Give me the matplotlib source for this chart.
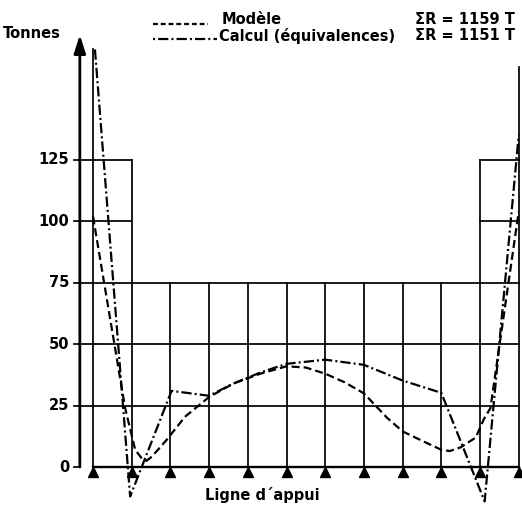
"""
plot.py
=======
Reaction diagram along the support line: measured reactions on the model
(dashed) against the equivalence calculation (dash-dot), drawn over the
support grid with the little triangle bearings underneath.

Writes out.png (522x508 px).
"""
from __future__ import annotations

import matplotlib
matplotlib.use("Agg")
import matplotlib.pyplot as plt
import matplotlib.transforms as mtransforms
from matplotlib.lines import Line2D

# ---- data -------------------------------------------------------------------
supports = list(range(12))               # bearing positions along the line
y_ticks = [0, 25, 50, 75, 100, 125]
y_tick_labels = ["0", "25", "50", "75", "100", "125"]

# heights of the verticals drawn at each support (tonnes)
post_heights = [170, 125, 75, 75, 75, 75, 75, 75, 75, 75, 125, 163]

modele_x = [0.0, 0.83, 1.09, 1.26, 1.38, 1.52, 1.9, 2.38, 3.0, 3.63, 4.33,
            5.0, 5.5, 6.0, 6.5, 7.0, 7.6, 8.0, 8.46, 9.0, 9.22, 9.5, 9.89,
            10.1, 10.27, 11.0]
modele_y = [102, 24, 7, 3.5, 2.5, 4.2, 11, 20.5, 28.5, 34, 38,
            41, 40.5, 38, 34.5, 30, 20, 14.5, 11, 7, 6.5, 8, 12,
            19.5, 24, 104]

calcul_x = [0.05, 0.96, 2.03, 3.0, 3.63, 4.33, 5.0, 6.0, 7.0, 8.0, 9.0,
            10.12, 11.0]
calcul_y = [170, -12, 31, 29, 34, 38.5, 42, 43.7, 41.6, 35.2, 30.2,
            -14, 135]

sum_modele = "\u03a3R = 1159 T"
sum_calcul = "\u03a3R = 1151 T"

# ---- look ---------------------------------------------------------------------
W, H = 522, 508
FONT = dict(family="DejaVu Sans", weight="bold", size=10.5, color="black")
GRID_LW = 1.25
CURVE_LW = 1.6
DASHED = (3.6, 1.8)
DASHDOT = (4.6, 1.4, 0.9, 1.4)
AXIS_X = -0.34


def fx(px: float) -> float:
    return px / W


def fy(py: float) -> float:
    return 1 - py / H


def draw_grid(ax) -> None:
    right = supports[-1]
    # horizontals across the whole span
    for lvl in (25, 50, 75):
        ax.plot([AXIS_X - 0.15, right], [lvl, lvl], color="black", lw=GRID_LW)
    # upper boxes over the two end bays
    for lvl in (100, 125):
        ax.plot([AXIS_X - 0.15, supports[1]], [lvl, lvl], color="black", lw=GRID_LW)
        ax.plot([supports[-2], right], [lvl, lvl], color="black", lw=GRID_LW)
    ax.plot([supports[0], right], [0, 0], color="black", lw=1.7)
    ax.plot([AXIS_X - 0.15, AXIS_X], [0, 0], color="black", lw=GRID_LW)
    for x, h in zip(supports, post_heights):
        ax.plot([x, x], [0, h], color="black", lw=GRID_LW)


def main() -> int:
    fig = plt.figure(figsize=(W / 100, H / 100), dpi=100)
    ax = fig.add_axes([0, 0, 1, 1])
    ax.set_xlim(-93 / 38.7, (W - 93) / 38.7)
    ax.set_ylim((467 - H) / 2.456, 467 / 2.456)
    ax.axis("off")

    draw_grid(ax)

    # vertical axis with arrow head
    ax.annotate("", xy=(AXIS_X, 176), xytext=(AXIS_X, 0),
                arrowprops=dict(arrowstyle="-|>,head_length=1.1,head_width=0.35",
                                color="black", lw=2.0, shrinkA=0, shrinkB=0))
    for v, lab in zip(y_ticks, y_tick_labels):
        ax.text(-0.62, v, lab, ha="right", va="center", **FONT)

    # bearings: triangles hanging just under the base line
    tri = mtransforms.offset_copy(ax.transData, fig=fig, y=-4.5, units="dots")
    ax.plot(supports, [0] * len(supports), ls="none", marker="^",
            ms=6.8, color="black", transform=tri, clip_on=False)

    ax.plot(modele_x, modele_y, color="black", lw=CURVE_LW, ls="--",
            dashes=DASHED)
    ax.plot(calcul_x, calcul_y, color="black", lw=CURVE_LW, ls="-.",
            dashes=DASHDOT)

    # legend, drawn by hand like the original
    fig.add_artist(Line2D([fx(153), fx(208)], [fy(24), fy(24)], color="black",
                          lw=CURVE_LW, ls="--", dashes=(2.2, 1.3)))
    fig.add_artist(Line2D([fx(153), fx(217)], [fy(39), fy(39)], color="black",
                          lw=CURVE_LW, ls="-.", dashes=(0.9, 1.4, 4.6, 1.4)))
    fig.text(fx(222), fy(19), "Mod\u00e8le", ha="left", va="center", **FONT)
    fig.text(fx(219), fy(36), "Calcul (\u00e9quivalences)", ha="left",
             va="center", **FONT)
    fig.text(fx(415), fy(19), sum_modele, ha="left", va="center", **FONT)
    fig.text(fx(415), fy(36), sum_calcul, ha="left", va="center", **FONT)

    fig.text(fx(3), fy(34), "Tonnes", ha="left", va="center", **FONT)
    fig.text(fx(262), fy(495), "Ligne d\u00b4appui", ha="center", va="center",
             **FONT)

    fig.savefig("out.png", dpi=100)
    plt.close(fig)
    return 0


if __name__ == "__main__":
    raise SystemExit(main())
